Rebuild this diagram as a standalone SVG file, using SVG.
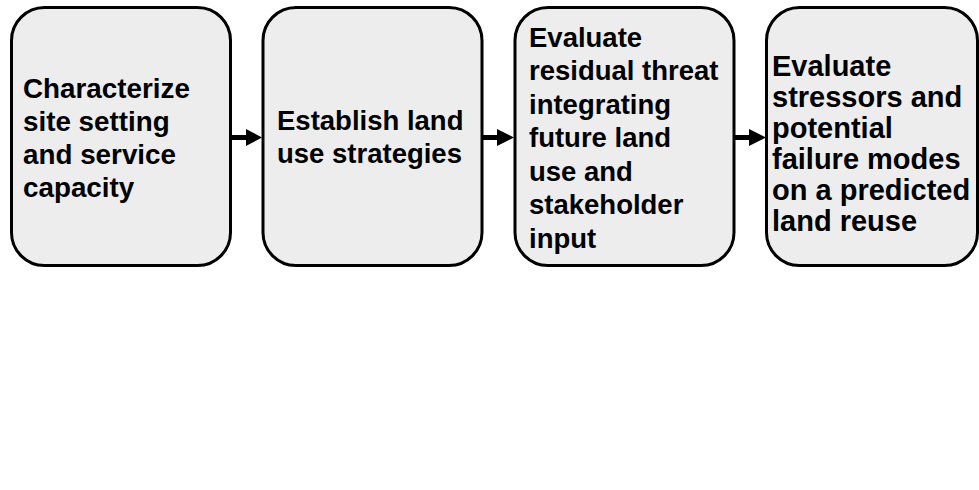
<svg xmlns="http://www.w3.org/2000/svg" width="979" height="490" viewBox="0 0 979 490">
<style>
.box{fill:#ededed;stroke:#000;stroke-width:3}
.t{font-family:"Liberation Sans",Arial,sans-serif;font-weight:bold;font-size:27.5px;fill:#000}
.t4{font-size:29px}
.shaft{stroke:#000;stroke-width:5;fill:none}
.head{fill:#000}
</style>
<rect width="979" height="490" fill="#fff"/>
<g id="node1">
<rect class="box" x="11.5" y="7.5" width="219" height="258" rx="33" ry="33"/>
<text class="t" style="font-size:27.8px"><tspan x="23" y="98">Characterize</tspan><tspan x="23" y="131">site setting</tspan><tspan x="23" y="164">and service</tspan><tspan x="23" y="197">capacity</tspan></text>
</g>
<g id="node2">
<rect class="box" x="263" y="7.5" width="219" height="258" rx="33" ry="33"/>
<text class="t"><tspan x="277" y="130">Establish land</tspan><tspan x="277" y="163">use strategies</tspan></text>
</g>
<g id="node3">
<rect class="box" x="515" y="7.5" width="219" height="258" rx="33" ry="33"/>
<text class="t"><tspan x="529" y="46.5">Evaluate</tspan><tspan x="529" y="80">residual threat</tspan><tspan x="529" y="113.5">integrating</tspan><tspan x="529" y="147">future land</tspan><tspan x="529" y="180.5">use and</tspan><tspan x="529" y="214">stakeholder</tspan><tspan x="529" y="247.5">input</tspan></text>
</g>
<g id="node4">
<rect class="box" x="766.5" y="7.5" width="211" height="258" rx="33" ry="33"/>
<text class="t t4"><tspan x="772" y="76">Evaluate</tspan><tspan x="772" y="107">stressors and</tspan><tspan x="772" y="138">potential</tspan><tspan x="772" y="169">failure modes</tspan><tspan x="772" y="200">on a predicted</tspan><tspan x="772" y="231">land reuse</tspan></text>
</g>
<g id="connectors">
<line class="shaft" x1="231" y1="137.5" x2="248" y2="137.5"/>
<polygon class="head" points="246,129 262,137.5 246,146"/>
<line class="shaft" x1="482.5" y1="137.5" x2="499" y2="137.5"/>
<polygon class="head" points="497,129 514,137.5 497,146"/>
<line class="shaft" x1="734.5" y1="137.5" x2="751" y2="137.5"/>
<polygon class="head" points="749,129 766,137.5 749,146"/>
</g>
</svg>
